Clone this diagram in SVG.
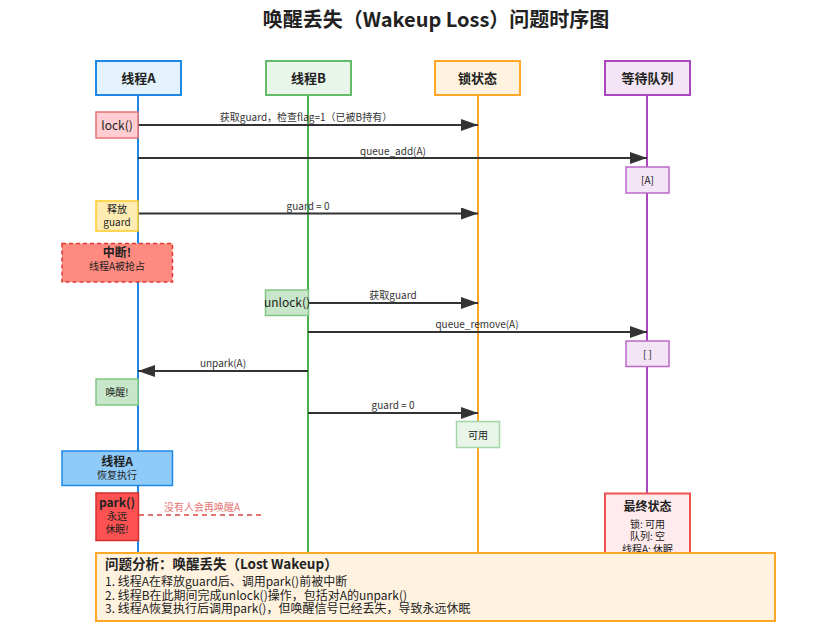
<svg xmlns="http://www.w3.org/2000/svg" width="829" height="644" viewBox="0 0 829 644">
<style>
text{font-family:"Noto Sans CJK SC","Noto Sans",sans-serif;fill:#222;}
.title{font-size:20px;font-weight:bold;text-anchor:middle;}
.hdr{font-size:13px;font-weight:bold;text-anchor:middle;}
.lbl{font-size:10px;text-anchor:middle;fill:#333;}
.small{font-size:10px;text-anchor:middle;}
.b12{font-size:12px;font-weight:bold;text-anchor:middle;}
.msg{stroke:#333;stroke-width:2;fill:none;}
.life{stroke-width:2;}
.an{font-size:12px;}
</style>
<defs>
<marker id="ah" markerUnits="userSpaceOnUse" markerWidth="18" markerHeight="12" refX="17" refY="6" orient="auto">
<path d="M0,0 L17,6 L0,12 z" fill="#333"/>
</marker>
</defs>
<rect width="829" height="644" fill="#fff"/>
<text class="title" x="436" y="27">唤醒丢失（Wakeup Loss）问题时序图</text>

<g id="lifelines">
<line class="life" x1="138" y1="95" x2="138" y2="600" stroke="#1e88e5"/>
<line class="life" x1="308" y1="95" x2="308" y2="600" stroke="#4caf50"/>
<line class="life" x1="478" y1="95" x2="478" y2="600" stroke="#ffa726"/>
<line class="life" x1="647" y1="95" x2="647" y2="600" stroke="#ab47bc"/>
</g>

<g id="threadA"><rect x="96" y="61" width="85" height="34" fill="#e3f2fd" stroke="#1e88e5" stroke-width="2"/><text class="hdr" x="138.5" y="83">线程A</text></g>
<g id="threadB"><rect x="266" y="61" width="85" height="34" fill="#e8f5e9" stroke="#66bb6a" stroke-width="2"/><text class="hdr" x="308.5" y="83">线程B</text></g>
<g id="lockState"><rect x="435" y="61" width="85" height="34" fill="#fff3e0" stroke="#ffa726" stroke-width="2"/><text class="hdr" x="477.5" y="83">锁状态</text></g>
<g id="waitQueue"><rect x="605" y="61" width="85" height="34" fill="#f3e5f5" stroke="#ab47bc" stroke-width="2"/><text class="hdr" x="647.5" y="83">等待队列</text></g>

<g id="connectors">
<line class="msg" x1="138" y1="125" x2="478" y2="125" marker-end="url(#ah)"/>
<text class="lbl" x="306" y="121">获取guard，检查flag=1（已被B持有）</text>
<line class="msg" x1="138" y1="158" x2="647" y2="158" marker-end="url(#ah)"/>
<text class="lbl" x="393" y="155">queue_add(A)</text>
<line class="msg" x1="138" y1="213.5" x2="478" y2="213.5" marker-end="url(#ah)"/>
<text class="lbl" x="308" y="210">guard = 0</text>
<line class="msg" x1="308" y1="303" x2="478" y2="303" marker-end="url(#ah)"/>
<text class="lbl" x="393" y="299">获取guard</text>
<line class="msg" x1="308" y1="332" x2="647" y2="332" marker-end="url(#ah)"/>
<text class="lbl" x="477" y="328">queue_remove(A)</text>
<line class="msg" x1="308" y1="371" x2="138" y2="371" marker-end="url(#ah)"/>
<text class="lbl" x="223" y="367">unpark(A)</text>
<line class="msg" x1="308" y1="413" x2="478" y2="413" marker-end="url(#ah)"/>
<text class="lbl" x="393" y="409">guard = 0</text>
<line x1="139" y1="515" x2="262" y2="515" stroke="#e57373" stroke-width="2" stroke-dasharray="5,4"/>
<text class="lbl" x="202" y="511" style="fill:#e57373">没有人会再唤醒A</text>
</g>

<g id="lockCall"><rect x="96" y="112" width="42" height="26" fill="#ffcdd2" stroke="#e57373" stroke-width="1.5"/><text x="117" y="129.5" style="font-size:12px;text-anchor:middle">lock()</text></g>
<g id="queueA"><rect x="626" y="167" width="43" height="26" fill="#f3e5f5" stroke="#ba68c8" stroke-width="1.5"/><text class="small" x="647.5" y="184">[A]</text></g>
<g id="releaseGuard"><rect x="96" y="201" width="42" height="30" fill="#ffecb3" stroke="#ffca28" stroke-width="1.5"/><text class="small" x="117" y="213">释放</text><text class="small" x="117" y="225.5">guard</text></g>
<g id="interrupt"><rect x="62" y="243.5" width="110.5" height="38.5" fill="#ff8a80" stroke="#e53935" stroke-width="1.5" stroke-dasharray="4,3"/><text class="b12" x="117" y="256.5">中断!</text><text class="small" x="117" y="270">线程A被抢占</text></g>
<g id="unlockCall"><rect x="265.5" y="290" width="43" height="25.5" fill="#c8e6c9" stroke="#81c784" stroke-width="1.5"/><text x="287" y="307" style="font-size:12px;text-anchor:middle">unlock()</text></g>
<g id="queueEmpty"><rect x="626" y="341" width="43" height="25.5" fill="#f3e5f5" stroke="#ba68c8" stroke-width="1.5"/><text class="small" x="647.5" y="358">[ ]</text></g>
<g id="wakeup"><rect x="96" y="379" width="42" height="26" fill="#c8e6c9" stroke="#81c784" stroke-width="1.5"/><text class="small" x="117" y="396">唤醒!</text></g>
<g id="available"><rect x="456.5" y="421.5" width="43" height="26" fill="#e8f5e9" stroke="#a5d6a7" stroke-width="1.5"/><text class="small" x="478" y="438.5">可用</text></g>
<g id="resumeA"><rect x="62" y="451" width="110.5" height="34.5" fill="#90caf9" stroke="#1e88e5" stroke-width="1.5"/><text class="b12" x="117" y="465.5">线程A</text><text class="small" x="117" y="479">恢复执行</text></g>
<g id="parkCall"><rect x="96" y="493" width="42.5" height="47.5" fill="#ff5252" stroke="#d32f2f" stroke-width="1.5"/><text x="117" y="507" style="font-size:12px;font-weight:bold;text-anchor:middle">park()</text><text class="small" x="117" y="520">永远</text><text class="small" x="117" y="532.5">休眠!</text></g>
<g id="finalState"><rect x="605" y="493.5" width="85" height="70" fill="#ffebee" stroke="#ef5350" stroke-width="2"/><text class="b12" x="647.5" y="511">最终状态</text><text class="small" x="647.5" y="528">锁: 可用</text><text class="small" x="647.5" y="540">队列: 空</text><text class="small" x="647.5" y="552.5">线程A: 休眠</text></g>
<g id="analysis"><rect x="96" y="553" width="679" height="68" fill="#fff3e0" stroke="#ffa726" stroke-width="2"/>
<text x="105" y="569" style="font-size:13.5px;font-weight:bold">问题分析：唤醒丢失（Lost Wakeup）</text>
<text class="an" x="105" y="586">1. 线程A在释放guard后、调用park()前被中断</text>
<text class="an" x="105" y="599.5">2. 线程B在此期间完成unlock()操作，包括对A的unpark()</text>
<text class="an" x="105" y="612.5">3. 线程A恢复执行后调用park()，但唤醒信号已经丢失，导致永远休眠</text>
</g>
</svg>
